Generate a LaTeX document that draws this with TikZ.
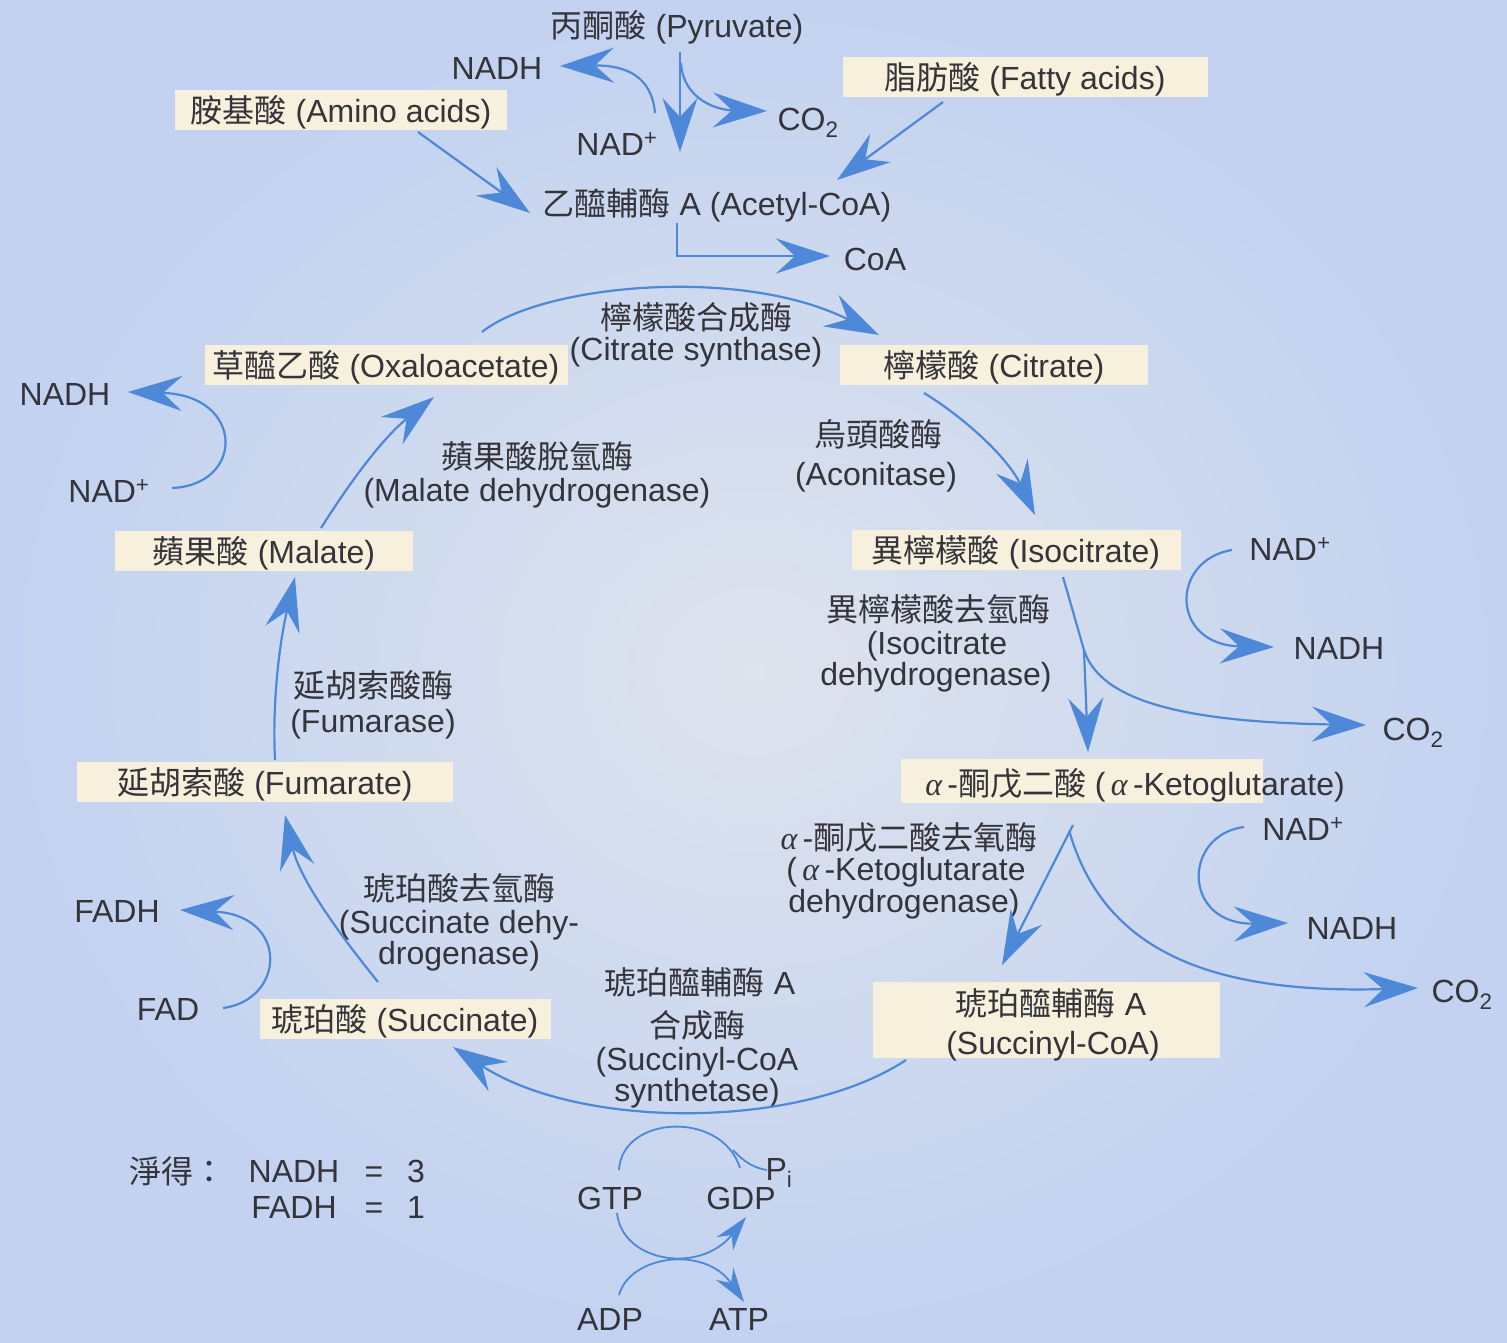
\documentclass[tikz,border=0pt]{standalone}
\usepackage{fontspec}
\setmainfont{Liberation Sans}
\newfontfamily\cjk{Noto Sans CJK TC}
\newfontfamily\grk{Liberation Serif}
\usetikzlibrary{arrows.meta}
\newcommand{\zhtxt}[1]{{\cjk #1}}
\newcommand{\alf}{{\grk\itshape α}}
\definecolor{bgout}{RGB}{194,210,240}
\definecolor{bgin}{RGB}{222,227,237}
\definecolor{boxfill}{RGB}{246,240,221}
\definecolor{flow}{RGB}{78,136,216}
\definecolor{ink}{RGB}{52,52,58}
\begin{document}
\begin{tikzpicture}[x=1pt,y=-1pt,
  every node/.style={text=ink, font=\fontsize{32}{36}\selectfont, inner sep=0pt,
    text height=24pt, text depth=0pt},
  cbox/.style={fill=boxfill, minimum height=40pt},
  flowarrow/.style={draw=flow, line width=2.2pt,
    -{Stealth[length=54pt,width=35pt,inset=19pt]}},
  flowline/.style={draw=flow, line width=2.2pt},
  smallarrow/.style={draw=flow, line width=1.8pt,
    -{Stealth[length=34pt,width=21pt,inset=11pt]}},
  smallline/.style={draw=flow, line width=1.8pt}]

% background
\useasboundingbox (0,0) rectangle (1507,1342);
\fill[bgout] (0,0) rectangle (1507,1342);
\shade[inner color=bgin, outer color=bgout] (0,0) rectangle (1507,1342);

% ---------- feeder pathways ----------
\node (pyr) at (677,25) {\zhtxt{丙酮酸} (Pyruvate)};
\node (nadh1) at (497,67) {NADH};
\node (nad1) at (617,143) {NAD\textsuperscript{+}};
\node (co2a) at (808,118) {CO\textsubscript{2}};
\node[cbox, minimum width=332pt] (amino) at (341,110) {\zhtxt{胺基酸} (Amino acids)};
\node[cbox, minimum width=365pt] (fatty) at (1025,77) {\zhtxt{脂肪酸} (Fatty acids)};
\node (acoa) at (717,203) {\zhtxt{乙醯輔酶} A (Acetyl-CoA)};
\node (coa) at (875,258) {CoA};

\coordinate (pyrA) at (680,52);
\coordinate (acoaIn) at (680,152);
\coordinate (pyrB) at (681,63);
\coordinate (co2aIn) at (767,111);
\coordinate (nad1Out) at (655,113);
\coordinate (nadh1In) at (560,66);
\coordinate (aminoOut) at (418,132);
\coordinate (acoaL) at (530,213);
\coordinate (fattyOut) at (943,102);
\coordinate (acoaR) at (837,180);
\coordinate (acoaOut) at (677,223);
\coordinate (coaIn) at (830,256);

\draw[flowarrow] (pyrA) -- (acoaIn);
\draw[flowarrow] (pyrB) .. controls (683,98) and (715,110) .. (co2aIn);
\draw[flowarrow] (nad1Out) .. controls (652,78) and (628,65) .. (nadh1In);
\draw[flowarrow] (aminoOut) -- (acoaL);
\draw[flowarrow] (fattyOut) -- (acoaR);
\draw[flowarrow] (acoaOut) |- (coaIn);

% ---------- cycle intermediates ----------
\node[cbox, minimum width=363pt] (oaa) at (386,365) {\zhtxt{草醯乙酸} (Oxaloacetate)};
\node[cbox, minimum width=308pt] (cit) at (994,365) {\zhtxt{檸檬酸} (Citrate)};
\node[cbox, minimum width=329pt] (iso) at (1016,550) {\zhtxt{異檸檬酸} (Isocitrate)};
\fill[boxfill] (901,759) rectangle (1263,803);
\node (akg) at (1135,783) {\alf\,-\zhtxt{酮戊二酸} (\,\alf\,-Ketoglutarate)};
\node[cbox, minimum width=347pt, minimum height=76pt] (scoa) at (1046,1020) {};
\node (scoa1) at (1051,1003) {\zhtxt{琥珀醯輔酶} A};
\node (scoa2) at (1053,1042) {(Succinyl-CoA)};
\node[cbox, minimum width=291pt] (suc) at (405,1019) {\zhtxt{琥珀酸} (Succinate)};
\node[cbox, minimum width=376pt] (fum) at (265,782) {\zhtxt{延胡索酸} (Fumarate)};
\node[cbox, minimum width=298pt] (mal) at (264,551) {\zhtxt{蘋果酸} (Malate)};

% ---------- enzymes ----------
\node (cs1) at (696,317) {\zhtxt{檸檬酸合成酶}};
\node (cs2) at (696,348) {(Citrate synthase)};
\node (acn1) at (878,434) {\zhtxt{烏頭酸酶}};
\node (acn2) at (876,473) {(Aconitase)};
\node (idh1) at (938,609) {\zhtxt{異檸檬酸去氫酶}};
\node (idh2) at (937,642) {(Isocitrate};
\node (idh3) at (936,673) {dehydrogenase)};
\node (kdh1) at (909,837) {\alf\,-\zhtxt{酮戊二酸去氧酶}};
\node (kdh2) at (906,868) {(\,\alf\,-Ketoglutarate};
\node (kdh3) at (904,900) {dehydrogenase)};
\node (scs1) at (700,982) {\zhtxt{琥珀醯輔酶} A};
\node (scs2) at (697,1025) {\zhtxt{合成酶}};
\node (scs3) at (697,1058) {(Succinyl-CoA};
\node (scs4) at (697,1089) {synthetase)};
\node (sdh1) at (459,888) {\zhtxt{琥珀酸去氫酶}};
\node (sdh2) at (459,921) {(Succinate dehy-};
\node (sdh3) at (459,952) {drogenase)};
\node (fh1) at (373,685) {\zhtxt{延胡索酸酶}};
\node (fh2) at (373,720) {(Fumarase)};
\node (mdh1) at (537,456) {\zhtxt{蘋果酸脫氫酶}};
\node (mdh2) at (537,489) {(Malate dehydrogenase)};

% ---------- cofactors ----------
\node (nad2) at (1290,548) {NAD\textsuperscript{+}};
\node (nadh2) at (1339,647) {NADH};
\node (co2b) at (1413,728) {CO\textsubscript{2}};
\node (nad3) at (1303,828) {NAD\textsuperscript{+}};
\node (nadh3) at (1352,927) {NADH};
\node (co2c) at (1462,990) {CO\textsubscript{2}};
\node (fad) at (168,1008) {FAD};
\node (fadh) at (117,910) {FADH};
\node (nad4) at (109,490) {NAD\textsuperscript{+}};
\node (nadh4) at (65,393) {NADH};

% ---------- cycle connectors ----------
\coordinate (oaaOut) at (482,332);
\coordinate (citIn) at (879,335);
\draw[flowarrow] (oaaOut) .. controls (540,285) and (740,265) .. (citIn);

\coordinate (citOut) at (924,393);
\coordinate (isoIn) at (1035,515);
\draw[flowarrow] (citOut) .. controls (965,418) and (1008,458) .. (isoIn);

\coordinate (isoOut) at (1063,577);
\coordinate (isoBr) at (1084,650);
\coordinate (akgIn) at (1088,752);
\coordinate (co2bIn) at (1366,725);
\draw[flowarrow] (isoOut) -- (isoBr) -- (akgIn);
\draw[flowarrow] (isoBr) .. controls (1100,700) and (1180,722) .. (co2bIn);

\coordinate (nad2Out) at (1232,550);
\coordinate (nadh2In) at (1274,647);
\draw[flowarrow] (nad2Out) .. controls (1170,560) and (1170,645) .. (nadh2In);

\coordinate (akgOut) at (1073,825);
\coordinate (akgBr) at (1069.5,832);
\coordinate (scoaIn) at (1002,965);
\coordinate (co2cIn) at (1418,988);
\draw[flowarrow] (akgOut) -- (scoaIn);
\draw[flowarrow] (akgBr) .. controls (1100,935) and (1185,995) .. (co2cIn);

\coordinate (nad3Out) at (1244,827);
\coordinate (nadh3In) at (1288,923);
\draw[flowarrow] (nad3Out) .. controls (1182,835) and (1182,925) .. (nadh3In);

\coordinate (scoaOut) at (906,1060);
\coordinate (sucIn) at (453,1047);
\draw[flowarrow] (scoaOut) .. controls (800,1130) and (580,1130) .. (sucIn);

\coordinate (sucOut) at (378,982);
\coordinate (fumIn) at (285,815);
\draw[flowarrow] (sucOut) .. controls (340,935) and (300,880) .. (fumIn);

\coordinate (fadOut) at (223,1008);
\coordinate (fadhIn) at (180,910);
\draw[flowarrow] (fadOut) .. controls (285,1000) and (290,915) .. (fadhIn);

\coordinate (fumOut) at (275,760);
\coordinate (malIn) at (295,577);
\draw[flowarrow] (fumOut) .. controls (272,700) and (280,640) .. (malIn);

\coordinate (malOut) at (321,528);
\coordinate (oaaIn) at (434,397);
\draw[flowarrow] (malOut) .. controls (345,490) and (380,440) .. (oaaIn);

\coordinate (nad4Out) at (172,488);
\coordinate (nadh4In) at (128,392);
\draw[flowarrow] (nad4Out) .. controls (245,485) and (245,395) .. (nadh4In);

% ---------- net yield ----------
\node (net) at (177,1171) {\zhtxt{淨得：}};
\node (sumn) at (294,1170) {NADH};
\node (eqn) at (374,1170) {=};
\node (valn) at (416,1170) {3};
\node (sumf) at (294,1206) {FADH};
\node (eqf) at (374,1206) {=};
\node (valf) at (416,1206) {1};

% ---------- substrate-level phosphorylation ----------
\node (gtp) at (610,1197) {GTP};
\node (gdp) at (741,1197) {GDP};
\node (pi) at (779,1168) {P\textsubscript{i}};
\node (adp) at (610,1318) {ADP};
\node (atp) at (739,1318) {ATP};

\coordinate (gtpTop) at (619,1170);
\coordinate (gdpTop) at (740,1168);
\coordinate (piBr) at (733,1150);
\coordinate (piIn) at (767,1170);
\coordinate (gtpBot) at (617,1213);
\coordinate (gdpIn) at (746,1217);
\coordinate (adpTop) at (619,1295);
\coordinate (atpIn) at (744,1302);
\draw[smallline] (gtpTop) .. controls (622,1115) and (722,1110) .. (gdpTop);
\draw[smallline] (piBr) .. controls (745,1163) and (755,1168) .. (piIn);
\draw[smallarrow] (gtpBot) .. controls (622,1262) and (700,1275) .. (gdpIn);
\draw[smallarrow] (adpTop) .. controls (630,1255) and (705,1245) .. (atpIn);
\end{tikzpicture}
\end{document}
